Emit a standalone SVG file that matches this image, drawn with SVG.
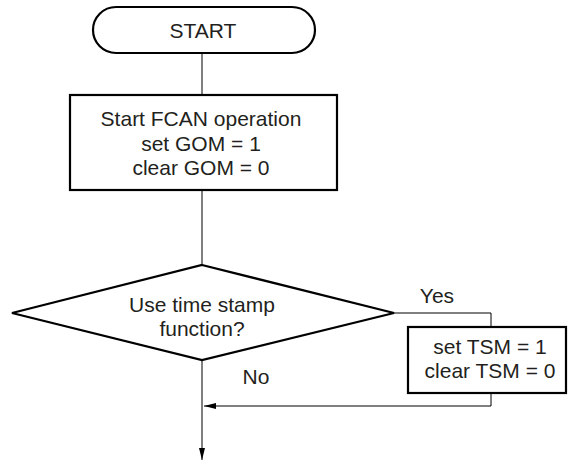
<svg xmlns="http://www.w3.org/2000/svg" width="568" height="461" viewBox="0 0 568 461">
<style>
.shape{fill:#fff;stroke:#000;stroke-width:2.2}
.line{fill:none;stroke:#000;stroke-width:1}
text{font-family:"Liberation Sans",Arial,sans-serif;font-size:21px;fill:#231f20;text-anchor:middle}
</style>
<defs>
<marker id="arr" viewBox="0 0 12 6" refX="12" refY="3" markerWidth="12" markerHeight="6" markerUnits="userSpaceOnUse" orient="auto">
<path d="M0,0 L12,3 L0,6 Z" fill="#000"/>
</marker>
</defs>
<rect width="568" height="461" fill="#fff"/>
<g id="connectors">
<line class="line" x1="202" y1="53" x2="202" y2="95"/>
<line class="line" x1="202" y1="190" x2="202" y2="265"/>
<line class="line" x1="202" y1="360" x2="202" y2="460" marker-end="url(#arr)"/>
<polyline class="line" points="394,313 491,313 491,327"/>
<polyline class="line" points="491,393 491,406 204,406" marker-end="url(#arr)"/>
<text x="437" y="303">Yes</text>
<text x="256" y="384">No</text>
</g>
<g id="start">
<rect class="shape" x="93" y="7" width="222" height="46" rx="23" ry="23"/>
<text x="203" y="38">START</text>
</g>
<g id="init">
<rect class="shape" x="70" y="95" width="267" height="95"/>
<text x="201" y="126">Start FCAN operation</text>
<text x="201" y="151">set GOM = 1</text>
<text x="201" y="175">clear GOM = 0</text>
</g>
<g id="decision">
<polygon class="shape" points="202,265 394,313 202,360 12,313"/>
<text x="202" y="312">Use time stamp</text>
<text x="202" y="336">function?</text>
</g>
<g id="tsm">
<rect class="shape" x="408" y="327" width="158" height="66"/>
<text x="490" y="354">set TSM = 1</text>
<text x="490" y="378">clear TSM = 0</text>
</g>
</svg>
